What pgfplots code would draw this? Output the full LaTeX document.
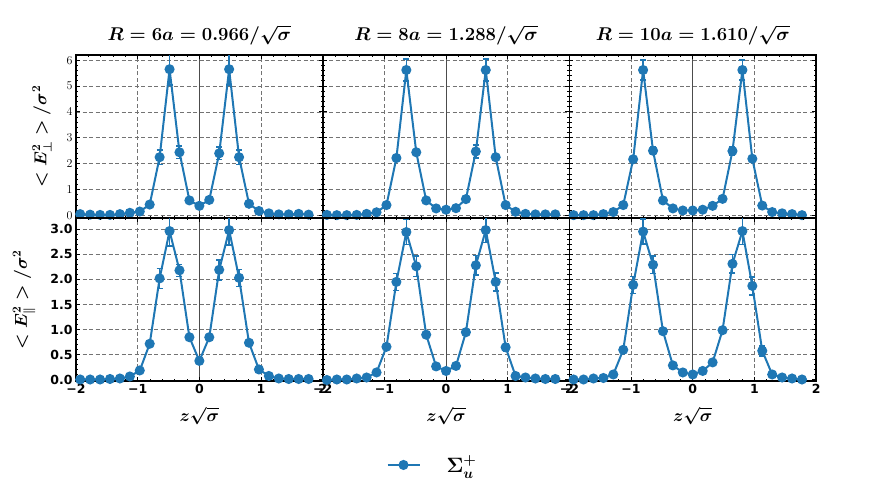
\documentclass[border=0pt]{standalone}
\usepackage[no-math]{fontspec}
\setmainfont{DejaVu Sans}
\usepackage{amsmath}
\usepackage{pgfplots}
\usepackage{pgfplotstable}
\pgfplotsset{compat=1.18}
\usepgfplotslibrary{groupplots}
\usetikzlibrary{calc}
\definecolor{tabblue}{RGB}{31,119,180}

% columns: z*sqrt(sigma), value, error
\pgfplotstableread{
x y e
-1.932 0.05 0.01
-1.771 0.03 0.01
-1.610 0.02 0.01
-1.449 0.02 0.01
-1.288 0.05 0.01
-1.127 0.10 0.01
-0.966 0.15 0.02
-0.805 0.42 0.05
-0.644 2.25 0.28
-0.483 5.65 0.60
-0.322 2.44 0.24
-0.161 0.58 0.05
0.000 0.37 0.04
0.161 0.60 0.05
0.322 2.40 0.24
0.483 5.65 0.60
0.644 2.25 0.28
0.805 0.45 0.05
0.966 0.17 0.02
1.127 0.08 0.01
1.288 0.04 0.01
1.449 0.04 0.01
1.610 0.06 0.01
1.771 0.03 0.01
}\perpA
\pgfplotstableread{
x y e
-1.932 0.02 0.01
-1.771 0.01 0.01
-1.610 0.01 0.01
-1.449 0.02 0.01
-1.288 0.06 0.01
-1.127 0.12 0.01
-0.966 0.40 0.03
-0.805 2.22 0.10
-0.644 5.62 0.43
-0.483 2.44 0.10
-0.322 0.58 0.04
-0.161 0.27 0.02
0.000 0.22 0.02
0.161 0.28 0.02
0.322 0.63 0.04
0.483 2.47 0.25
0.644 5.62 0.43
0.805 2.25 0.10
0.966 0.40 0.03
1.127 0.14 0.01
1.288 0.06 0.01
1.449 0.04 0.01
1.610 0.04 0.01
1.771 0.04 0.01
}\perpB
\pgfplotstableread{
x y e
-1.932 0.01 0.01
-1.771 0.01 0.01
-1.610 0.01 0.01
-1.449 0.05 0.01
-1.288 0.13 0.01
-1.127 0.40 0.03
-0.966 2.17 0.10
-0.805 5.62 0.38
-0.644 2.50 0.15
-0.483 0.58 0.04
-0.322 0.27 0.02
-0.161 0.19 0.02
0.000 0.19 0.02
0.161 0.22 0.02
0.322 0.37 0.03
0.483 0.64 0.04
0.644 2.49 0.16
0.805 5.62 0.38
0.966 2.19 0.10
1.127 0.38 0.03
1.288 0.13 0.01
1.449 0.08 0.01
1.610 0.05 0.01
1.771 0.01 0.01
}\perpC
\pgfplotstableread{
x y e
-1.932 0.01 0.01
-1.771 0.01 0.01
-1.610 0.01 0.01
-1.449 0.02 0.01
-1.288 0.03 0.01
-1.127 0.07 0.01
-0.966 0.19 0.02
-0.805 0.72 0.04
-0.644 2.02 0.20
-0.483 2.96 0.30
-0.322 2.18 0.12
-0.161 0.85 0.03
0.000 0.38 0.03
0.161 0.85 0.03
0.322 2.19 0.20
0.483 2.98 0.30
0.644 2.03 0.17
0.805 0.74 0.05
0.966 0.21 0.02
1.127 0.08 0.01
1.288 0.03 0.01
1.449 0.02 0.01
1.610 0.02 0.01
1.771 0.02 0.01
}\parA
\pgfplotstableread{
x y e
-1.932 0.00 0.01
-1.771 0.01 0.01
-1.610 0.01 0.01
-1.449 0.03 0.01
-1.288 0.05 0.01
-1.127 0.15 0.01
-0.966 0.66 0.04
-0.805 1.95 0.17
-0.644 2.94 0.25
-0.483 2.26 0.20
-0.322 0.90 0.04
-0.161 0.27 0.02
0.000 0.18 0.02
0.161 0.28 0.02
0.322 0.95 0.04
0.483 2.28 0.19
0.644 2.98 0.25
0.805 1.95 0.18
0.966 0.65 0.08
1.127 0.08 0.01
1.288 0.05 0.01
1.449 0.03 0.01
1.610 0.02 0.01
1.771 0.02 0.01
}\parB
\pgfplotstableread{
x y e
-1.932 0.01 0.01
-1.771 0.01 0.01
-1.610 0.03 0.01
-1.449 0.04 0.01
-1.288 0.11 0.01
-1.127 0.60 0.03
-0.966 1.89 0.17
-0.805 2.95 0.25
-0.644 2.29 0.17
-0.483 0.97 0.04
-0.322 0.29 0.02
-0.161 0.15 0.02
0.000 0.11 0.02
0.161 0.18 0.02
0.322 0.35 0.02
0.483 0.99 0.05
0.644 2.31 0.18
0.805 2.96 0.27
0.966 1.87 0.18
1.127 0.58 0.10
1.288 0.11 0.01
1.449 0.05 0.01
1.610 0.03 0.01
1.771 0.01 0.01
}\parC

\newcommand{\bigfont}{\fontsize{18}{21}\selectfont\boldmath}
\newcommand{\mn}{\symbol{"2212}}

\pgfplotsset{
  legend image code/.code={\draw[mark repeat=2, mark phase=2, #1]
    plot coordinates {(0pt,0pt) (16pt,0pt) (32pt,0pt)};},
}
\pgfplotsset{
  series/.style={color=tabblue, line width=2pt, mark=*, mark size=4pt,
    mark options={solid},
    error bars/.cd, y dir=both, y explicit,
    error bar style={line width=1.5pt, tabblue},
    error mark options={rotate=90, mark size=3pt, line width=1.5pt, tabblue}},
  toprow/.style={ymin=-0.1, ymax=6.2, ytick={0,1,2,3,4,5,6},
    minor y tick num=4, xticklabels={}, extra x tick labels={}},
  botrow/.style={ymin=-0.02, ymax=3.22, ytick={0,0.5,1,1.5,2,2.5,3},
    minor y tick num=4,
    xticklabels={\mn2,\mn1,1,2}, extra x tick labels={0}},
  noyl/.style={yticklabels={}},
}

\begin{document}
\begin{tikzpicture}
\begin{groupplot}[
  group style={group size=3 by 2, horizontal sep=0pt, vertical sep=0pt},
  scale only axis, width=246.7pt, height=163pt,
  xmin=-2, xmax=2,
  xtick={-2,-1,1,2}, extra x ticks={0},
  minor xtick={-1.8,-1.6,-1.4,-1.2,-0.8,-0.6,-0.4,-0.2,0.2,0.4,0.6,0.8,1.2,1.4,1.6,1.8},
  extra x tick style={grid=major, major grid style={solid, black!70, line width=0.8pt}},
  grid=major,
  major grid style={dash pattern=on 4pt off 2.5pt, black!55, line width=0.8pt},
  axis line style={line width=1.6pt, black},
  tick align=inside, tick pos=both,
  major tick length=4pt, minor tick length=2.2pt,
  every tick/.style={black, line width=1pt},
  tick label style={font=\fontsize{12.5}{14}\selectfont\bfseries},
  title style={font=\bigfont, scale=1.07, yshift=0pt},
  label style={font=\bigfont},
  xlabel style={yshift=-6pt},
  ylabel style={yshift=8pt},
]
\nextgroupplot[toprow, title={$R = 6a = 0.966/\sqrt{\sigma}$},
  ylabel={$<E^2_\perp>/\sigma^2$}]
\addplot+[series] table[x=x, y=y, y error=e] {\perpA};
\nextgroupplot[toprow, noyl, title={$R = 8a = 1.288/\sqrt{\sigma}$}]
\addplot+[series] table[x=x, y=y, y error=e] {\perpB};
\nextgroupplot[toprow, noyl, title={$R = 10a = 1.610/\sqrt{\sigma}$}]
\addplot+[series] table[x=x, y=y, y error=e] {\perpC};
\nextgroupplot[botrow, yticklabels={0.0,0.5,1.0,1.5,2.0,2.5,3.0},
  xlabel={$z\sqrt{\sigma}$}, ylabel={$<E^2_\parallel>/\sigma^2$}]
\addplot+[series] table[x=x, y=y, y error=e] {\parA};
\nextgroupplot[botrow, noyl, xlabel={$z\sqrt{\sigma}$},
  legend style={at={(0.445,-0.515)}, anchor=center, draw=none, fill=none,
    font=\fontsize{22}{24}\selectfont\boldmath, legend cell align=left}]
\addplot+[series] table[x=x, y=y, y error=e] {\parB};
\addlegendentry{\hspace{24pt}$\Sigma_u^+$}
\nextgroupplot[botrow, noyl, xlabel={$z\sqrt{\sigma}$}]
\addplot+[series] table[x=x, y=y, y error=e] {\parC};
\end{groupplot}
\pgfresetboundingbox
\path[use as bounding box] ($(group c1r1.north west)+(-76pt,55pt)$) rectangle ++(872pt,-491pt);
\end{tikzpicture}
\end{document}
